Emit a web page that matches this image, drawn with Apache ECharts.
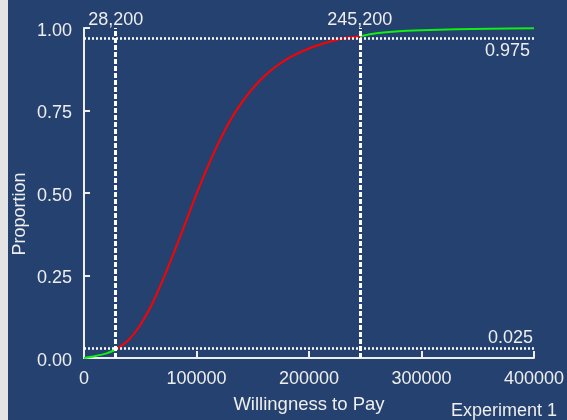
<!DOCTYPE html>
<html>
<head>
<meta charset="utf-8">
<script src="https://cdn.jsdelivr.net/npm/echarts@6/dist/echarts.min.js"></script>
<style>
  html, body { margin: 0; padding: 0; background: #24416f; }
  #chart { width: 567px; height: 420px; }
</style>
</head>
<body>
<div id="chart"></div>
<script>
// Cumulative proportion of willingness to pay
const lowerTailX = [0, 10000, 20000, 28200];
const lowerTailY = [0, 0.006, 0.014, 0.025];

const centralX = [28200, 40000, 50000, 60000, 70000, 80000, 90000, 100000, 110000, 120000,
                  130000, 140000, 150000, 160000, 170000, 180000, 190000, 200000, 210000,
                  220000, 230000, 245200];
const centralY = [0.025, 0.056, 0.100, 0.160, 0.236, 0.320, 0.408, 0.497, 0.580, 0.655,
                  0.720, 0.773, 0.817, 0.853, 0.882, 0.905, 0.923, 0.938, 0.950,
                  0.960, 0.968, 0.975];

const upperTailX = [245200, 260000, 280000, 300000, 330000, 360000, 400000];
const upperTailY = [0.975, 0.984, 0.990, 0.993, 0.996, 0.998, 0.999];

const intervalBounds = [28200, 245200];
const tailLevels = [0.025, 0.975];

const xTicks = [0, 100000, 200000, 300000, 400000];
const yTicks = [0, 0.25, 0.5, 0.75, 1];

const FONT = '"Liberation Sans", Arial, sans-serif';
const TEXT = '#eeeeee';

const pairs = (xs, ys) => xs.map((x, i) => [x, ys[i]]);

const chart = echarts.init(document.getElementById('chart'), null, { renderer: 'canvas' });

chart.setOption({
  backgroundColor: '#24416f',
  animation: false,
  textStyle: { fontFamily: FONT },
  grid: { left: 84, right: 29, top: 28, bottom: 62, containLabel: false },
  graphic: [
    { type: 'rect', left: 0, top: 0, shape: { width: 8, height: 420 },
      style: { fill: '#e4e4e4' }, silent: true },
    { type: 'text', x: 20, y: 214, rotation: Math.PI / 2,
      style: { text: 'Proportion', fill: TEXT, font: '18px ' + FONT,
               align: 'center', verticalAlign: 'middle' } },
    { type: 'text', x: 557, y: 411,
      style: { text: 'Experiment 1', fill: TEXT, font: '18px ' + FONT,
               align: 'right', verticalAlign: 'middle' } }
  ],
  xAxis: {
    type: 'value',
    min: xTicks[0],
    max: xTicks[xTicks.length - 1],
    interval: xTicks[1] - xTicks[0],
    name: 'Willingness to Pay',
    nameLocation: 'middle',
    nameGap: 37,
    nameTextStyle: { color: TEXT, fontSize: 18.5, fontFamily: FONT },
    axisLine: { show: true, lineStyle: { color: '#eeeeee', width: 2 } },
    axisTick: { show: true, inside: true, length: 7, lineStyle: { color: '#eeeeee', width: 2 } },
    axisLabel: { color: TEXT, fontSize: 18, fontFamily: FONT, margin: 12,
                 formatter: v => String(v) },
    splitLine: { show: false }
  },
  yAxis: {
    type: 'value',
    min: yTicks[0],
    max: yTicks[yTicks.length - 1],
    interval: yTicks[1] - yTicks[0],
    axisLine: { show: true, lineStyle: { color: '#eeeeee', width: 2 } },
    axisTick: { show: true, inside: true, length: 6, lineStyle: { color: '#eeeeee', width: 2 } },
    axisLabel: { color: TEXT, fontSize: 18, fontFamily: FONT, margin: 12,
                 verticalAlign: 'top', lineHeight: 6,
                 formatter: v => v.toFixed(2) },
    splitLine: { show: false }
  },
  series: [
    {
      name: 'lower tail',
      type: 'line',
      data: pairs(lowerTailX, lowerTailY),
      showSymbol: false,
      smooth: 0.3,
      lineStyle: { color: '#11ee11', width: 2 },
      z: 3
    },
    {
      name: 'central 95%',
      type: 'line',
      data: pairs(centralX, centralY),
      showSymbol: false,
      smooth: 0.3,
      lineStyle: { color: '#ff0000', width: 2 },
      z: 3,
      markLine: {
        silent: true,
        symbol: ['none', 'none'],
        animation: false,
        data: [
          ...intervalBounds.map(b => ({
            xAxis: b,
            lineStyle: { color: '#ffffff', width: 3, type: [5, 2] },
            label: {
              show: true, position: 'end', distance: -1,
              color: TEXT, fontSize: 18, fontFamily: FONT,
              formatter: () => b.toLocaleString('en-US')
            }
          })),
          ...tailLevels.map(t => ({
            yAxis: t,
            lineStyle: { color: '#ffffff', width: 2.5, type: [2, 2] },
            label: {
              show: true,
              position: t > 0.5 ? 'insideEndBottom' : 'insideEndTop',
              distance: t > 0.5 ? 4 : 1,
              color: TEXT, fontSize: 18, fontFamily: FONT,
              formatter: () => t.toFixed(3)
            }
          }))
        ]
      }
    },
    {
      name: 'upper tail',
      type: 'line',
      data: pairs(upperTailX, upperTailY),
      showSymbol: false,
      smooth: 0.3,
      lineStyle: { color: '#11ee11', width: 2 },
      z: 3
    }
  ]
});
</script>
</body>
</html>
